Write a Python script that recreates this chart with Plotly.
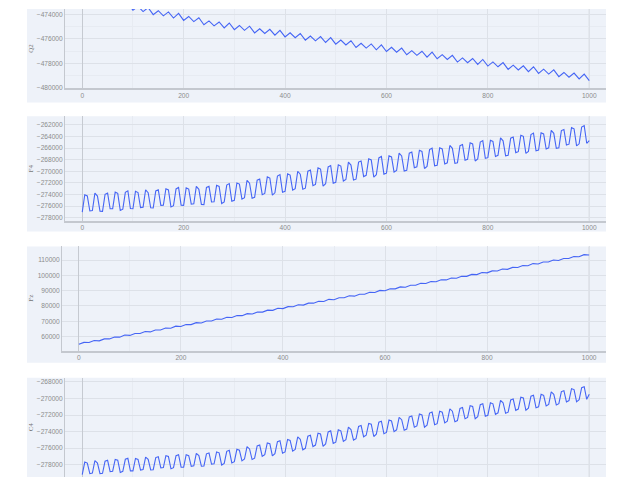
import plotly.graph_objects as go

# ---------------- data ----------------
x_fine = list(range(0, 1001, 5))
x_coarse = list(range(0, 1001, 10))

q2 = [-472840, -472530, -472950, -472630, -473200, -472890, -473300, -472980, -473490, -473110,
      -473670, -473350, -473780, -473460, -474030, -473710, -474130, -473810, -474310, -473930,
      -474500, -474180, -474600, -474280, -474860, -474540, -474950, -474630, -475116, -474716,
      -475255, -474915, -475314, -474974, -475523, -475183, -475572, -475232, -475711, -475311,
      -475850, -475510, -475909, -475569, -476118, -475778, -476167, -475827, -476306, -475906,
      -476445, -476105, -476504, -476164, -476713, -476373, -476762, -476422, -476901, -476501,
      -477040, -476700, -477099, -476759, -477308, -476968, -477357, -477017, -477496, -477096,
      -477635, -477295, -477694, -477354, -477903, -477563, -477952, -477612, -478091, -477691,
      -478230, -477890, -478289, -477949, -478498, -478158, -478547, -478207, -478686, -478286,
      -478825, -478485, -478884, -478544, -479093, -478753, -479142, -478802, -479281, -478881,
      -479420]

f4 = [-277050, -274050, -274250, -276850, -276780, -273780, -274280, -276880,
      -276920, -273970, -273770, -276470, -276450, -273600, -273800, -276750,
      -276530, -273630, -273380, -276430, -276460, -273460, -273660, -276260,
      -276190, -273190, -273690, -276290, -276330, -273380, -273180, -275880,
      -275860, -273010, -273210, -276160, -275940, -273040, -272790, -275840,
      -275870, -272870, -273070, -275670, -275610, -272610, -273110, -275710,
      -275740, -272790, -272590, -275290, -275270, -272420, -272620, -275570,
      -275280, -272380, -272130, -275180, -275010, -272010, -272210, -274810,
      -274550, -271550, -272050, -274650, -274490, -271540, -271340, -274040,
      -273820, -270970, -271170, -274120, -273710, -270810, -270560, -273610,
      -273450, -270450, -270650, -273250, -272990, -269990, -270490, -273090,
      -272920, -269970, -269770, -272470, -272260, -269410, -269610, -272560,
      -272150, -269250, -269000, -272050, -271890, -268890, -269090, -271690,
      -271420, -268420, -268920, -271520, -271360, -268410, -268210, -270910,
      -270700, -267850, -268050, -271000, -270590, -267690, -267440, -270490,
      -270320, -267320, -267520, -270120, -269860, -266860, -267360, -269960,
      -269830, -266880, -266680, -269380, -269220, -266370, -266570, -269520,
      -269160, -266260, -266010, -269060, -268950, -265950, -266150, -268750,
      -268540, -265540, -266040, -268640, -268530, -265580, -265380, -268080,
      -267920, -265070, -265270, -268220, -267860, -264960, -264710, -267760,
      -267650, -264650, -264850, -267450, -267240, -264240, -264740, -267340,
      -267230, -264280, -264080, -266780, -266620, -263770, -263970, -266920,
      -266560, -263660, -263410, -266460, -266350, -263350, -263550, -266150,
      -265940, -262940, -263440, -266040, -265930, -262980, -262780, -265480,
      -265320, -262470, -262670, -265620, -265260, -262360, -262110, -265160,
      -264700]

fz = [54920, 56204, 56168, 57452, 57216, 58500, 58474, 59758, 59622, 60986,
      60760, 62044, 62008, 63292, 63056, 64340, 64314, 65598, 65462, 66826,
      66600, 67884, 67848, 69132, 68896, 70180, 70154, 71438, 71302, 72666,
      72440, 73724, 73688, 74972, 74736, 76020, 75994, 77278, 77142, 78506,
      78280, 79564, 79528, 80812, 80576, 81860, 81834, 83118, 82982, 84346,
      84120, 85404, 85368, 86652, 86416, 87700, 87674, 88958, 88822, 90186,
      89960, 91244, 91208, 92492, 92256, 93540, 93514, 94798, 94662, 96026,
      95800, 97084, 97048, 98332, 98096, 99380, 99354, 100638, 100502, 101866,
      101640, 102924, 102888, 104172, 103936, 105220, 105194, 106478, 106342, 107706,
      107480, 108764, 108728, 110012, 109776, 111060, 111034, 112318, 112182, 113546,
      113320]

c4 = [-279180, -277680, -277800, -279080, -279010, -277510, -277790, -279070,
      -279040, -277570, -277460, -278820, -278780, -277350, -277450, -278930,
      -278790, -277340, -277220, -278740, -278740, -277240, -277360, -278640,
      -278570, -277070, -277350, -278630, -278600, -277130, -277020, -278380,
      -278340, -276910, -277010, -278490, -278350, -276900, -276780, -278300,
      -278290, -276790, -276910, -278190, -278120, -276620, -276900, -278180,
      -278150, -276680, -276570, -277930, -277890, -276460, -276560, -278040,
      -277830, -276380, -276260, -277780, -277630, -276130, -276250, -277530,
      -277310, -275810, -276090, -277370, -277200, -275730, -275620, -276980,
      -276790, -275360, -275460, -276940, -276660, -275210, -275090, -276610,
      -276450, -274950, -275070, -276350, -276140, -274640, -274920, -276200,
      -276020, -274550, -274440, -275800, -275620, -274190, -274290, -275770,
      -275480, -274030, -273910, -275430, -275280, -273780, -273900, -275180,
      -274960, -273460, -273740, -275020, -274850, -273380, -273270, -274630,
      -274440, -273010, -273110, -274590, -274310, -272860, -272740, -274260,
      -274100, -272600, -272720, -274000, -273780, -272280, -272560, -273840,
      -273690, -272220, -272110, -273470, -273310, -271880, -271980, -273460,
      -273210, -271760, -271640, -273160, -273040, -271540, -271660, -272940,
      -272750, -271250, -271530, -272810, -272670, -271200, -271090, -272450,
      -272290, -270860, -270960, -272440, -272190, -270740, -270620, -272140,
      -272020, -270520, -270640, -271920, -271730, -270230, -270510, -271790,
      -271650, -270180, -270070, -271430, -271270, -269840, -269940, -271420,
      -271170, -269720, -269600, -271120, -271000, -269500, -269620, -270900,
      -270710, -269210, -269490, -270770, -270630, -269160, -269050, -270410,
      -270250, -268820, -268920, -270400, -270150, -268700, -268580, -270100,
      -269500]

titles = ["Q2", "F4", "Fz", "C4"]

# ---------------- layout geometry (page pixels) ----------------
W, H = 603, 472
OX, OY = 8, 8


def px(x):
    return (x - OX) / W


def py(y):
    return (OY + H - y) / H


BG = "#eef2f9"
GRID = "#dde1e8"
MINOR = "#e7ebf2"
AXLINE = "#c4c8cf"
TICKC = "#8c8c8c"
LINEC = "#4565f5"
TF = dict(family="Liberation Sans, Arial, sans-serif", size=6.6, color=TICKC)

# plot-left, plot-top, plot-bottom, panel-bottom, xrange, yrange, ydtick, yminor
panels = [
    (65, 9, 89, 103, [-34, 1033], [-480060, -473570], 2000, 1000),
    (65, 117, 222, 233, [-34, 1033], [-278515, -260510], 2000, None),
    (62, 248, 353, 365, [-33, 1033], [50700, 118900], 10000, None),
    (65, 380, 480, 480, [-34, 1033], [-279480, -267480], 2000, None),
]
series = [(x_coarse, q2), (x_fine, f4), (x_coarse, fz), (x_fine, c4)]

fig = go.Figure()
shapes = []
annotations = []
for i, ((pl, pt, pb, bb, xr, yr, ydt, ymin), (xs, ys), title) in enumerate(zip(panels, series, titles)):
    n = i + 1
    xa = "x" if n == 1 else f"x{n}"
    ya = "y" if n == 1 else f"y{n}"
    fig.add_trace(go.Scatter(x=xs, y=ys, mode="lines", xaxis=xa, yaxis=ya,
                             line=dict(color=LINEC, width=1.1), showlegend=False,
                             hoverinfo="skip"))
    last = (n == 4)
    xkw = dict(domain=[px(pl), px(606)], range=xr, anchor=ya, dtick=200, tick0=0,
               showgrid=True, gridcolor=GRID, gridwidth=1,
               minor=dict(dtick=100, tick0=0, showgrid=True, gridcolor=MINOR),
               zeroline=True, zerolinecolor="#c6cad1", zerolinewidth=1,
               showline=not last, linecolor=AXLINE, linewidth=1.5,
               ticks="", showticklabels=not last, tickfont=TF, fixedrange=True)
    ykw = dict(domain=[py(pb), py(pt)], range=yr, anchor=xa, dtick=ydt, tick0=0,
               tickformat="d", showgrid=True, gridcolor=GRID, gridwidth=1,
               zeroline=False, showline=True, linecolor=AXLINE, linewidth=1,
               ticks="", tickfont=TF, fixedrange=True)
    if ymin:
        ykw["minor"] = dict(dtick=ymin, tick0=0, showgrid=True, gridcolor=MINOR)
    fig.update_layout(**{("xaxis" if n == 1 else f"xaxis{n}"): xkw,
                         ("yaxis" if n == 1 else f"yaxis{n}"): ykw})
    shapes.append(dict(type="rect", xref="paper", yref="paper", layer="below",
                       x0=px(27), x1=px(606), y0=py(bb), y1=py(pt),
                       fillcolor=BG, line=dict(width=0)))
    # darker boundary line at the end of the data
    shapes.append(dict(type="line", xref=xa, yref=f"{ya} domain", layer="below",
                       x0=xs[-1], x1=xs[-1], y0=0, y1=1,
                       line=dict(color="#c6cad1", width=1)))
    annotations.append(dict(text=title, xref="paper", yref="paper",
                            x=px(31), y=(py(pb) + py(pt)) / 2, xanchor="center",
                            yanchor="middle", textangle=-90, showarrow=False,
                            font=dict(family="Liberation Serif, serif", size=7, color="#777777")))

fig.update_layout(width=W, height=H, margin=dict(l=0, r=0, t=0, b=0, pad=0),
                  paper_bgcolor="white", plot_bgcolor="rgba(0,0,0,0)",
                  shapes=shapes, annotations=annotations, showlegend=False)

fig.write_html("out.html")
